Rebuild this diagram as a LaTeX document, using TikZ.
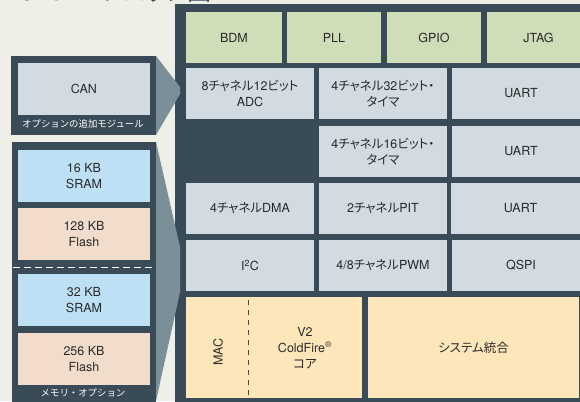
\documentclass[tikz,border=0pt]{standalone}
\usepackage{fontspec}
\setmainfont{TeX Gyre Heros}
\newfontfamily\jp[RawFeature=+palt]{Noto Sans CJK JP}
\newfontfamily\jpl{Noto Sans CJK JP}
\newcommand\J[1]{{\jp #1}}
\definecolor{bg}{HTML}{EEF0E7}
\definecolor{dark}{HTML}{384B57}
\definecolor{funnel}{HTML}{7B8F99}
\definecolor{grn}{HTML}{CFDDB9}
\definecolor{gry}{HTML}{D2DBE1}
\definecolor{blu}{HTML}{BDE0F4}
\definecolor{pch}{HTML}{F2DDCC}
\definecolor{ylw}{HTML}{FDE7BA}
\definecolor{txt}{HTML}{2A2A2A}
\tikzset{
  blk/.style={inner sep=0pt, outer sep=0pt, align=center, text=txt,
    font=\fontsize{12.5}{16}\selectfont, anchor=north west},
  lbl/.style={inner sep=0pt, text=white, font=\jpl\fontsize{9.4}{10}\selectfont},
  txtnode/.style={inner sep=0pt, align=center, text=txt, font=\fontsize{12.5}{16}\selectfont}
}
\newcommand\bx[7]{\node[blk, fill=#6, minimum width={(#4-#2)*1pt}, minimum height={(#5-#3)*1pt}] (#1) at (#2,#3) {#7};}
\begin{document}
\begin{tikzpicture}[x=1pt,y=-1pt]
\useasboundingbox (0,0) rectangle (580,401);
\clip (0,0) rectangle (580,401);
\fill[bg] (0,0) rectangle (580,401);
% clipped title
\node[anchor=base west, inner sep=0pt, text=dark, font=\fontsize{24}{24}\selectfont] (title) at (-2,1) {MCF521x\J{ブロック図}};
% main block
\fill[dark] (175,4) rectangle (590,410);
% funnels
\fill[funnel] (156,56) -- (180,87) -- (180,94) -- (156,135) -- cycle;
\fill[funnel] (156,142) -- (180,247) -- (180,292) -- (156,401) -- cycle;
% left modules
\fill[dark] (11,56) rectangle (156,135);
\fill[dark] (12,142) rectangle (156,410);
\bx{can}{18}{63}{150}{115}{gry}{CAN}
\node[lbl] (canlbl) at (83,124) {オプションの追加モジュール};
\bx{sram16}{18}{150}{150}{202}{blu}{16 KB\\SRAM}
\bx{flash128}{18}{208}{150}{260}{pch}{128 KB\\Flash}
\draw[white, line width=1pt, dash pattern=on 7pt off 4pt] (13,267) -- (156,267);
\bx{sram32}{18}{274}{150}{326}{blu}{32 KB\\SRAM}
\bx{flash256}{18}{333}{150}{385}{pch}{256 KB\\Flash}
\node[lbl] (memlbl) at (83,393) {メモリ・オプション};
% top row
\bx{bdm}{186}{12}{282}{63}{grn}{BDM}
\bx{pll}{287}{12}{381}{63}{grn}{PLL}
\bx{gpio}{387}{12}{481}{63}{grn}{GPIO}
\bx{jtag}{487}{12}{590}{63}{grn}{JTAG}
% row 2
\bx{adc}{186}{68}{314}{119}{gry}{8\J{チャネル}12\J{ビット}\\ADC}
\bx{tim32}{319}{68}{447}{119}{gry}{4\J{チャネル}32\J{ビット・}\\\J{タイマ}}
\bx{uart1}{452}{68}{590}{119}{gry}{UART}
% row 3
\bx{tim16}{319}{126}{447}{177}{gry}{4\J{チャネル}16\J{ビット・}\\\J{タイマ}}
\bx{uart2}{452}{126}{590}{177}{gry}{UART}
% row 4
\bx{dma}{186}{183}{314}{234}{gry}{4\J{チャネル}DMA}
\bx{pit}{319}{183}{447}{234}{gry}{2\J{チャネル}PIT}
\bx{uart3}{451}{183}{590}{234}{gry}{UART}
% row 5
\bx{i2c}{186}{240}{314}{291}{gry}{I\textsuperscript{2}C}
\bx{pwm}{319}{240}{447}{291}{gry}{4/8\J{チャネル}PWM}
\bx{qspi}{452}{240}{590}{291}{gry}{QSPI}
% row 6
\bx{core}{186}{297}{362}{398}{ylw}{}
\bx{sys}{368}{297}{579}{398}{ylw}{\J{システム統合}}
\draw[dark, line width=0.8pt, dash pattern=on 5pt off 5pt] (core.north west) ++(62,3) coordinate (d1) -- (248,398);
\node[txtnode, rotate=90] (mac) at (218,352) {MAC};
\node[txtnode] (cf) at (305,348) {V2\\ColdFire\textsuperscript{®}\\\J{コア}};
\end{tikzpicture}
\end{document}
